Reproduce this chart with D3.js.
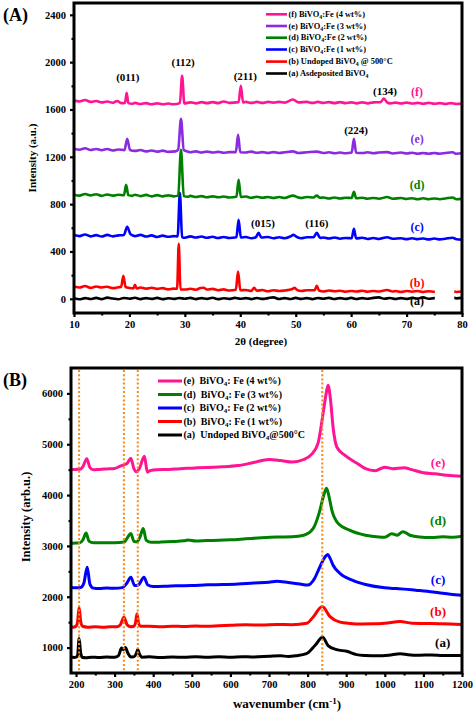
<!DOCTYPE html>
<html><head><meta charset="utf-8">
<script src="https://cdn.jsdelivr.net/npm/d3@7"></script>
<style>
body{margin:0;background:#fff;}
text{font-family:"Liberation Serif","Times New Roman",serif;font-weight:bold;}
</style>
</head><body><svg id="c" width="474" height="721"></svg>
<script>
// ---------------- XRD data (2θ, intensity) ----------------
const xrdA = [[10,5],[11,-4],[12,6],[13,-2],[14,8],[15,-3],[16,10],[17,2],[18,-4],[19,7],[20,1],[21,9],[22,-3],[23,6],[24,-1],[25,8],[26,-3],[27,5],[28,-1],[29,7],[30,0],[31,8],[32,-3],[33,6],[34,-1],[35,9],[36,-3],[37,5],[38,-1],[39,8],[40,0],[41,6],[42,-3],[43,7],[44,-1],[45,6],[46,12],[47,-2],[48,6],[49,-2],[50,8],[51,-1],[52,6],[53,-3],[54,7],[55,0],[56,8],[57,-2],[58,6],[59,-1],[60,8],[61,-2],[62,6],[63,0],[64,8],[65,12],[66,0],[67,7],[68,-2],[69,6],[70,-1],[71,8],[72,2],[73,12],[74,0],[75,6],[76,0],[77,6],[78,12],[79,4],[80,8]];
const xrdB = [[10,105],[11,95],[12,108],[13,92],[14,104],[15,96],[16,102],[17,90],[18,98],[18.5,100],[18.9,195],[19.3,100],[20,92],[20.7,88],[21,118],[21.3,88],[22,96],[23,86],[24,94],[25,84],[26,90],[27,80],[28,86],[28.6,85],[28.9,465],[29.2,80],[30,78],[31,85],[32,76],[32.8,92],[33.4,94],[34,78],[35,84],[36,72],[37,80],[38,70],[39.2,76],[39.6,230],[40,72],[41,74],[42,66],[42.5,92],[43,68],[44,74],[45,64],[46,72],[47,66],[48,70],[49.3,80],[49.8,92],[50.3,74],[51,66],[52,72],[53.4,72],[53.8,110],[54.2,70],[55,62],[56,70],[57,64],[58,68],[59,60],[60,66],[61,62],[62,68],[63,60],[64,66],[65,62],[66.5,74],[67.5,62],[68,66],[69,58],[70,66],[71,60],[72,66],[73,58],[74,64],[75,60],[76,62],[77,58],[78,64],[79,58],[80,62]];
const xrdC = [[10,540],[11,530],[12,544],[13,528],[14,538],[15,526],[16,540],[17,528],[18,536],[19,540],[19.6,608],[20.2,545],[21,530],[22,540],[23,526],[24,536],[25,522],[26,534],[27,524],[28,530],[28.7,528],[29.1,896],[29.5,522],[30,516],[31,528],[32,518],[33,526],[34,516],[35,524],[36,514],[37,522],[38,514],[39.3,520],[39.7,668],[40.1,518],[41,522],[42,512],[42.8,520],[43.3,557],[43.8,518],[45,522],[46,512],[47,520],[48,512],[49,526],[49.6,540],[50.3,520],[51,512],[52,520],[53.2,520],[53.8,557],[54.4,515],[55,518],[56,510],[57,518],[58,508],[59,514],[60.1,512],[60.5,591],[60.9,510],[62,516],[63,506],[64,514],[65,506],[66.5,520],[67.5,508],[69,512],[70,504],[71,512],[72,504],[73,510],[74,502],[75,510],[76,502],[77,508],[78.3,516],[79,504],[80,500]];
const xrdD = [[10,880],[11,872],[12,886],[13,874],[14,884],[15,870],[16,882],[17,872],[18,880],[19,875],[19.4,963],[19.8,876],[20.5,870],[21,880],[22,868],[23,878],[24,866],[25,876],[26,866],[27,874],[28,866],[28.8,872],[29.3,1259],[29.8,868],[30.5,862],[31,870],[32,860],[33,868],[34,858],[35,866],[36,858],[37,864],[38,856],[39.3,862],[39.7,1005],[40.1,860],[41,864],[42,854],[43,862],[44,854],[45,860],[46,852],[47,860],[48,852],[49.5,872],[50.5,856],[51,852],[52,860],[53.2,856],[53.8,872],[54.4,854],[55,856],[56,848],[57,856],[58,848],[59,854],[60.1,852],[60.5,904],[60.9,850],[62,854],[63,846],[64,852],[65,846],[66.5,860],[67.5,846],[69,852],[70,844],[71,850],[72,842],[73,850],[74,842],[75,848],[76,842],[77,848],[78.3,856],[79,842],[80,845]];
const xrdE = [[10,1268],[11,1260],[12,1272],[13,1258],[14,1266],[15,1256],[16,1266],[17,1254],[18,1262],[19.1,1256],[19.6,1352],[20.1,1258],[21,1250],[22,1258],[23,1246],[24,1254],[25,1244],[26,1252],[27,1242],[28.3,1246],[28.8,1262],[29.3,1521],[29.8,1258],[30.5,1244],[31,1238],[32,1246],[33,1236],[34,1244],[35,1236],[36,1242],[37,1234],[38,1240],[39.2,1240],[39.6,1386],[40,1238],[41,1236],[42,1244],[43,1234],[44,1240],[45,1232],[46,1240],[47,1232],[48,1238],[49.5,1246],[50.5,1232],[52,1238],[53.8,1244],[55,1232],[56,1238],[57,1230],[58,1236],[59,1230],[60.1,1236],[60.5,1352],[60.9,1234],[62,1232],[63,1238],[64,1230],[65,1236],[66.5,1240],[67.5,1228],[69,1236],[70,1228],[71,1234],[72,1226],[73,1232],[74,1226],[75,1232],[76,1226],[77,1232],[78.3,1238],[79,1226],[80,1230]];
const xrdF = [[10,1675],[11,1668],[12,1680],[13,1664],[14,1672],[15,1660],[16,1668],[17,1656],[17.8,1672],[18.5,1654],[19.2,1656],[19.5,1741],[19.8,1654],[20.5,1648],[21,1656],[22,1646],[23,1654],[24,1644],[25,1652],[26,1644],[27,1650],[28,1644],[29.1,1654],[29.5,1884],[29.9,1652],[31,1660],[32,1652],[33,1662],[34,1654],[35,1662],[36,1654],[37,1668],[38,1656],[39.7,1662],[40.1,1800],[40.5,1660],[41,1664],[42,1656],[43,1664],[44,1656],[45,1664],[46,1658],[47,1664],[48,1658],[49.5,1684],[50.5,1660],[52,1664],[53,1656],[54,1664],[55,1656],[56,1662],[57,1654],[58,1662],[59,1654],[60,1660],[61,1652],[62,1660],[63,1652],[64,1660],[65.3,1662],[65.9,1692],[66.5,1660],[67,1652],[68,1658],[69,1650],[70,1658],[71,1650],[72,1656],[73,1648],[74,1656],[75,1648],[76,1654],[77,1646],[78,1654],[79,1646],[80,1650]];
const xrdSeries = [xrdA, xrdB, xrdC, xrdD, xrdE, xrdF];
const xrdColors = ["#000000", "#ff0000", "#0000ff", "#008000", "#8a2be2", "#ff1493"];
const xrdTags = ["(a)", "(b)", "(c)", "(d)", "(e)", "(f)"];
const xrdLegend = [
  ["(f) BiVO", "4", ":Fe (4 wt%)"],
  ["(e) BiVO", "4", ":Fe (3 wt%)"],
  ["(d) BiVO", "4", ":Fe (2 wt%)"],
  ["(c) BiVO", "4", ":Fe (1 wt%)"],
  ["(b) Undoped BiVO", "4", " @ 500°C"],
  ["(a) Asdeposited BiVO", "4", ""]
];
const xrdLegendColors = ["#ff1493", "#8a2be2", "#008000", "#0000ff", "#ff0000", "#000000"];
const xrdPeakNames = ["(011)", "(112)", "(211)", "(134)", "(224)", "(015)", "(116)"];
const xrdPeakAt = [[19.7,1876],[29.7,2003],[40.9,1884],[66.1,1758],[60.9,1428],[44.1,642],[53.8,642]];
const xrdTagAt = [[71.9,-15],[71.9,135],[71.9,610],[71.9,965],[71.9,1352],[71.9,1750]];
const xrdXTicks = [10,20,30,40,50,60,70,80];
const xrdXMinor = [15,25,35,45,55,65,75];
const xrdYTicks = [0,400,800,1200,1600,2000,2400];
const xrdYMinor = [200,600,1000,1400,1800,2200];

// ---------------- Raman data (wavenumber, intensity) ----------------
const ramA = [[187,815],[195,805],[200,812],[204,840],[208,1177],[212,900],[216,810],[225,800],[240,812],[260,805],[280,815],[300,808],[310,840],[318,990],[322,960],[328,1000],[334,900],[342,815],[350,818],[356,880],[360,960],[364,880],[370,812],[390,818],[420,806],[450,815],[480,808],[510,818],[540,810],[570,820],[600,812],[630,822],[660,815],[700,828],[730,838],[750,826],[770,840],[797,880],[819,1040],[839,1203],[853,1040],[875,960],[901,927],[927,862],[950,845],[980,838],[1010,850],[1040,878],[1060,860],[1090,850],[1120,856],[1150,845],[1180,842],[1200,845]];
const ramB = [[187,1400],[195,1405],[200,1420],[204,1500],[208,1794],[212,1520],[217,1420],[230,1402],[250,1410],[270,1400],[290,1410],[305,1408],[315,1450],[324,1597],[333,1440],[342,1410],[350,1420],[354,1480],[358,1668],[362,1480],[368,1418],[390,1420],[420,1412],[450,1422],[480,1415],[510,1425],[540,1418],[570,1430],[600,1440],[640,1448],[680,1445],[720,1455],[760,1450],[798,1478],[814,1597],[838,1808],[858,1610],[884,1500],[910,1475],[940,1465],[970,1468],[1000,1480],[1040,1512],[1070,1480],[1100,1475],[1140,1470],[1170,1465],[1200,1455]];
const ramC = [[187,2180],[200,2175],[212,2180],[220,2260],[229,2582],[236,2250],[245,2170],[260,2160],[280,2170],[300,2165],[320,2180],[332,2270],[342,2385],[352,2220],[362,2235],[376,2385],[386,2230],[400,2200],[430,2205],[460,2215],[500,2220],[540,2235],[580,2240],[620,2250],[660,2270],[700,2285],[720,2306],[750,2280],[780,2250],[800,2230],[818,2360],[830,2560],[845,2780],[852,2832],[858,2760],[866,2620],[884,2458],[917,2320],[950,2240],[1000,2175],[1030,2160],[1050,2150],[1080,2130],[1110,2110],[1140,2080],[1170,2050],[1200,2030]];
const ramD = [[187,3050],[200,3055],[210,3060],[218,3120],[226,3252],[234,3090],[245,3060],[270,3062],[300,3060],[325,3075],[333,3160],[342,3245],[350,3090],[358,3080],[366,3180],[374,3344],[382,3110],[395,3070],[420,3075],[450,3085],[480,3100],[490,3115],[510,3095],[540,3105],[570,3110],[600,3120],[640,3140],[680,3160],[720,3175],[760,3180],[790,3210],[815,3350],[830,3650],[842,4000],[849,4132],[856,3950],[863,3700],[879,3443],[910,3305],[950,3210],[985,3175],[1000,3170],[1018,3240],[1032,3210],[1047,3280],[1065,3210],[1090,3175],[1120,3165],[1150,3180],[1175,3170],[1200,3193]];
const ramE = [[187,4500],[200,4505],[210,4510],[218,4560],[228,4717],[236,4540],[245,4500],[260,4505],[280,4515],[300,4525],[315,4570],[325,4600],[332,4620],[342,4723],[350,4520],[356,4457],[364,4520],[377,4762],[385,4450],[392,4480],[410,4500],[440,4505],[470,4520],[500,4530],[540,4545],[580,4555],[620,4580],[660,4640],[700,4700],[730,4680],[760,4650],[790,4700],[810,4800],[827,5020],[840,5600],[847,5950],[853,6160],[859,5900],[866,5334],[876,4940],[897,4782],[928,4625],[950,4520],[975,4480],[1000,4550],[1020,4520],[1050,4540],[1070,4500],[1100,4440],[1130,4420],[1160,4390],[1200,4370]];
const ramSeries = [ramA, ramB, ramC, ramD, ramE];
const ramColors = ["#000000", "#ff0000", "#0000ff", "#008000", "#ff1493"];
const ramTags = ["(a)", "(b)", "(c)", "(d)", "(e)"];
const ramTagAt = [[1150,1100],[1138,1720],[1138,2340],[1138,3500],[1138,4640]];
const ramLegend = [
  ["(e)\u00a0 BiVO", "4", ": Fe (4 wt%)"],
  ["(d)\u00a0 BiVO", "4", ": Fe (3 wt%)"],
  ["(c)\u00a0 BiVO", "4", ": Fe (2 wt%)"],
  ["(b)\u00a0 BiVO", "4", ": Fe (1 wt%)"],
  ["(a)\u00a0 Undoped BiVO", "4", "@500°C"]
];
const ramLegendColors = ["#ff1493", "#008000", "#0000ff", "#ff0000", "#000000"];
const ramRefLines = [208, 324, 360, 838];
const ramXTicks = [200,300,400,500,600,700,800,900,1000,1100,1200];
const ramXMinor = [250,350,450,550,650,750,850,950,1050,1150];
const ramYTicks = [1000,2000,3000,4000,5000,6000];
const ramYMinor = [1500,2500,3500,4500,5500];

// ---------------- drawing ----------------
const svg = d3.select("#c");
svg.append("rect").attr("width",474).attr("height",721).attr("fill","#fff");

function axes(g, x, y, xt, xm, yt, ym, L, T, R, B, fs){
  const gx = g.append("g").attr("transform",`translate(0,${B})`)
    .call(d3.axisBottom(x).tickValues(xt).tickSize(4).tickSizeOuter(0).tickPadding(4).tickFormat(d3.format("d")));
  const gxm = g.append("g").attr("transform",`translate(0,${B})`)
    .call(d3.axisBottom(x).tickValues(xm).tickSize(2.5).tickSizeOuter(0).tickFormat(""));
  const gy = g.append("g").attr("transform",`translate(${L},0)`)
    .call(d3.axisLeft(y).tickValues(yt).tickSize(4).tickSizeOuter(0).tickPadding(4).tickFormat(d3.format("d")));
  const gym = g.append("g").attr("transform",`translate(${L},0)`)
    .call(d3.axisLeft(y).tickValues(ym).tickSize(2.5).tickSizeOuter(0).tickFormat(""));
  [gx,gxm,gy,gym].forEach(a=>{
    a.select(".domain").remove();
    a.selectAll(".tick line").attr("stroke","#000").attr("stroke-width",2.2);
    a.selectAll("text").attr("fill","#000").style("font-size",fs+"px")
      .style("font-family",'"Liberation Serif","Times New Roman",serif').style("font-weight","bold");
  });
  g.append("rect").attr("x",L).attr("y",T).attr("width",R-L).attr("height",B-T)
    .attr("fill","none").attr("stroke","#000").attr("stroke-width",3);
}

function legendRows(g, rows, colors, x0, x1, ys, fs, sw){
  rows.forEach((r,i)=>{
    g.append("line").attr("x1",x0).attr("x2",x1).attr("y1",ys[i]).attr("y2",ys[i])
      .attr("stroke",colors[i]).attr("stroke-width",sw);
    const t = g.append("text").attr("x",x1+1.5).attr("y",ys[i]).attr("dy","0.33em")
      .style("font-size",fs+"px").attr("fill","#000");
    t.append("tspan").text(r[0]);
    t.append("tspan").text(r[1]).style("font-size",(fs*0.7)+"px").attr("dy","0.3em");
    t.append("tspan").text(r[2]).attr("dy","-0.21em");
  });
}

// ===== Panel A =====
{
  const L=74,T=3,R=462,B=313;
  const x = d3.scaleLinear().domain([10,80]).range([L,R]);
  const y = d3.scaleLinear().domain([-120,2500]).range([B,T]);
  const g = svg.append("g");
  g.append("clipPath").attr("id","clipA").append("rect").attr("x",L).attr("y",T).attr("width",R-L).attr("height",B-T);
  const line = d3.line().x(d=>x(d[0])).y(d=>y(d[1])).curve(d3.curveMonotoneX);
  const lg = g.append("g").attr("clip-path","url(#clipA)");
  xrdSeries.forEach((s,i)=>{
    lg.append("path").datum(s).attr("d",line).attr("fill","none")
      .attr("stroke",xrdColors[i]).attr("stroke-width",2.6).attr("stroke-linejoin","round");
  });
  // white gap behind (a)/(b) tags
  g.append("rect").attr("x",x(75.1)).attr("y",y(270)).attr("width",x(78.6)-x(75.1)).attr("height",y(-60)-y(270)).attr("fill","#fff");
  axes(g,x,y,xrdXTicks,xrdXMinor,xrdYTicks,xrdYMinor,L,T,R,B,10.5);
  xrdPeakNames.forEach((n,i)=>{
    g.append("text").attr("x",x(xrdPeakAt[i][0])).attr("y",y(xrdPeakAt[i][1])).attr("dy","0.35em")
      .attr("text-anchor","middle").style("font-size","11px").attr("fill","#000").text(n);
  });
  xrdTags.forEach((n,i)=>{
    g.append("text").attr("x",x(xrdTagAt[i][0])).attr("y",y(xrdTagAt[i][1])).attr("dy","0.35em")
      .attr("text-anchor","middle").style("font-size","12px").attr("fill",xrdColors[i]).text(n);
  });
  legendRows(g, xrdLegend, xrdLegendColors, 266, 287, [14.3,26,37.7,49.5,61.6,73.5], 8.4, 2.6);
  g.append("text").attr("x",32).attr("y",158).attr("transform","rotate(-90,32,158)").attr("dy","0.35em")
    .attr("text-anchor","middle").style("font-size","11px").text("Intensity (a.u.)");
  g.append("text").attr("x",261).attr("y",345).attr("text-anchor","middle").style("font-size","11px").text("2θ (degree)");
  g.append("text").attr("x",3).attr("y",21).style("font-size","18px").text("(A)");
}

// ===== Panel B =====
{
  const L=71,T=368,R=462,B=673;
  const x = d3.scaleLinear().domain([187,1200]).range([L,R]);
  const y = d3.scaleLinear().domain([500,6500]).range([B,T]);
  const g = svg.append("g");
  g.append("clipPath").attr("id","clipB").append("rect").attr("x",L).attr("y",T).attr("width",R-L).attr("height",B-T);
  const line = d3.line().x(d=>x(d[0])).y(d=>y(d[1])).curve(d3.curveMonotoneX);
  const lg = g.append("g").attr("clip-path","url(#clipB)");
  ramSeries.forEach((s,i)=>{
    lg.append("path").datum(s).attr("d",line).attr("fill","none")
      .attr("stroke",ramColors[i]).attr("stroke-width",3).attr("stroke-linejoin","round");
  });
  ramRefLines.forEach(v=>{
    g.append("line").attr("x1",x(v)).attr("x2",x(v)).attr("y1",T+2).attr("y2",B-1)
      .attr("stroke","#f28a1a").attr("stroke-width",2).attr("stroke-dasharray","2,2.2");
  });
  axes(g,x,y,ramXTicks,ramXMinor,ramYTicks,ramYMinor,L,T,R,B,10.5);
  ramTags.forEach((n,i)=>{
    g.append("text").attr("x",x(ramTagAt[i][0])).attr("y",y(ramTagAt[i][1])).attr("dy","0.35em")
      .attr("text-anchor","middle").style("font-size","13px").attr("fill",ramColors[i]).text(n);
  });
  legendRows(g, ramLegend, ramLegendColors, 158, 182, [381,394.5,408,421.5,435], 10, 3);
  g.append("text").attr("x",26).attr("y",517).attr("transform","rotate(-90,26,517)").attr("dy","0.35em")
    .attr("text-anchor","middle").style("font-size","12.5px").text("Intensity (arb.u.)");
  const xl = g.append("text").attr("x",287).attr("y",708).attr("text-anchor","middle").style("font-size","13px");
  xl.append("tspan").text("wavenumber (cm");
  xl.append("tspan").text("-1").style("font-size","9px").attr("dy","-0.45em");
  xl.append("tspan").text(")").attr("dy","0.35em");
  g.append("text").attr("x",3).attr("y",386).style("font-size","18px").text("(B)");
}
</script></body></html>
